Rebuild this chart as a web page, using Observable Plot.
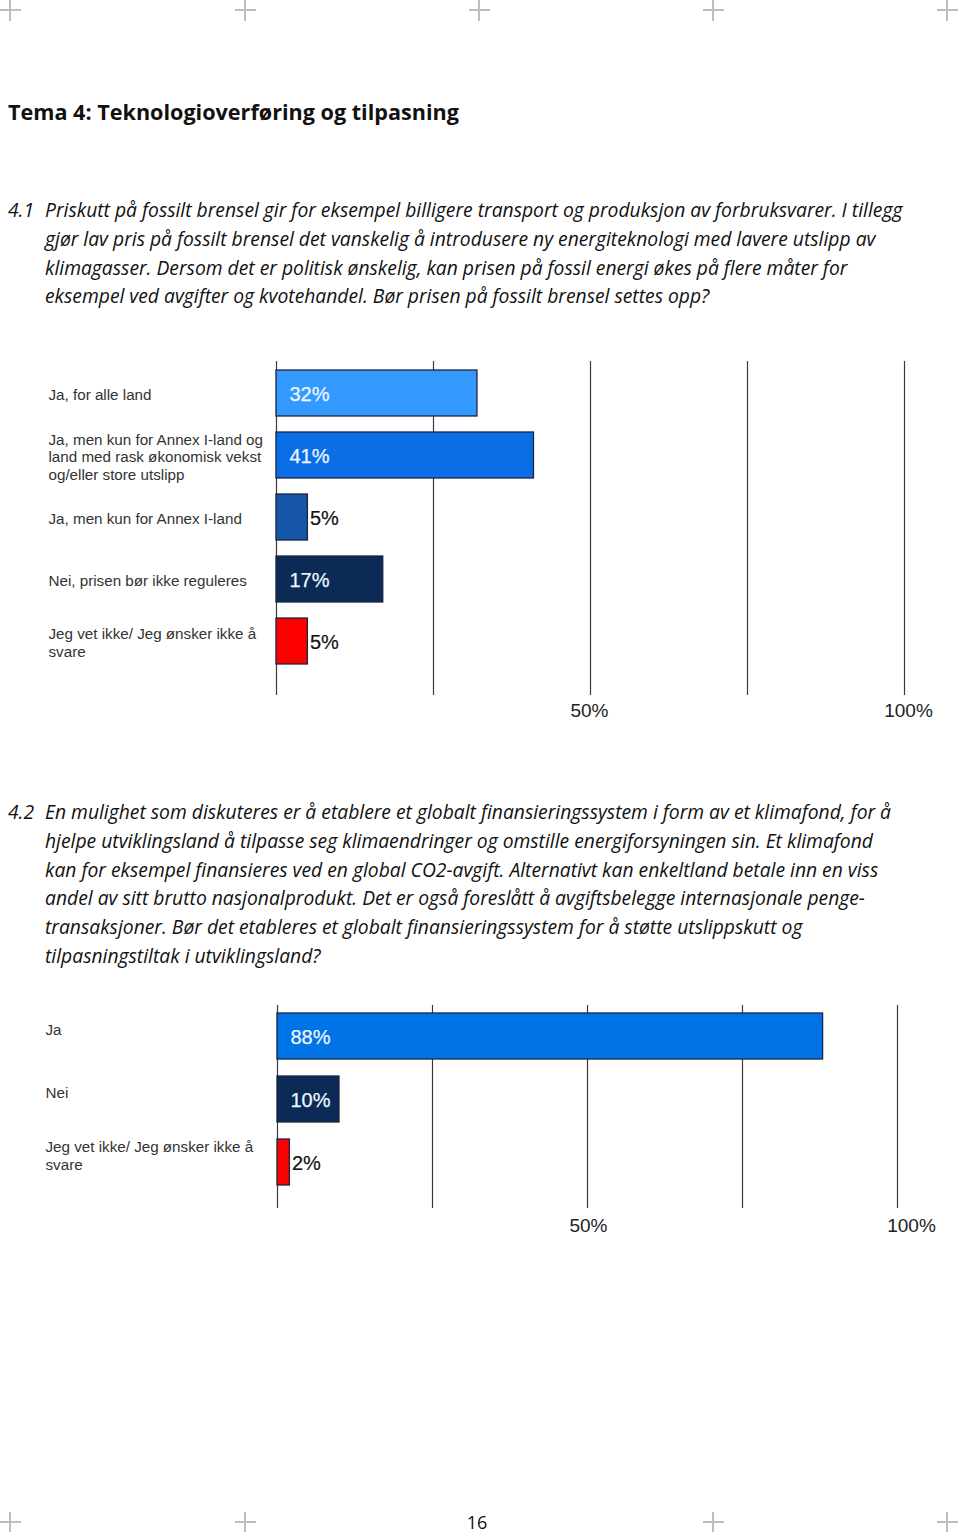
<!DOCTYPE html>
<html><head><meta charset="utf-8">
<script src="https://cdn.jsdelivr.net/npm/d3@7"></script>
<script src="https://cdn.jsdelivr.net/npm/@observablehq/plot@0.6"></script>
<style>
html,body{margin:0;padding:0;background:#fff;}
body{position:relative;width:960px;height:1532px;overflow:hidden;font-family:"Open Sans",Lato,sans-serif;color:#111;}
.abs{position:absolute;}
.title{left:8px;top:97px;font-size:21.6px;font-weight:700;line-height:30px;white-space:nowrap;}
.q{font-style:italic;font-size:19.3px;line-height:28.8px;white-space:nowrap;}
.num{left:8px;}
.txt{left:45px;}
.cross{position:absolute;width:21px;height:21px;}
.cross:before{content:"";position:absolute;left:9.5px;top:0;width:2px;height:21px;background:#bdbdbd;}
.cross:after{content:"";position:absolute;left:0;top:9.5px;width:21px;height:2px;background:#bdbdbd;}
.page{left:460px;width:34px;text-align:center;top:1510px;font-size:18px;line-height:24px;}
.chart{position:absolute;left:0;}
</style>
</head><body>
<div id="crosses"></div>
<div class="abs title">Tema 4: Teknologioverføring og tilpasning</div>
<div class="abs q num" style="top:196px">4.1</div>
<div class="abs q txt" style="top:196px">Priskutt på fossilt brensel gir for eksempel billigere transport og produksjon av forbruksvarer. I tillegg<br>gjør lav pris på fossilt brensel det vanskelig å introdusere ny energiteknologi med lavere utslipp av<br>klimagasser. Dersom det er politisk ønskelig, kan prisen på fossil energi økes på flere måter for<br>eksempel ved avgifter og kvotehandel. Bør prisen på fossilt brensel settes opp?</div>
<div id="c1" class="chart" style="top:340px"></div>
<div class="abs q num" style="top:798px">4.2</div>
<div class="abs q txt" style="top:798px">En mulighet som diskuteres er å etablere et globalt finansieringssystem i form av et klimafond, for å<br>hjelpe utviklingsland å tilpasse seg klimaendringer og omstille energiforsyningen sin. Et klimafond<br>kan for eksempel finansieres ved en global CO2-avgift. Alternativt kan enkeltland betale inn en viss<br>andel av sitt brutto nasjonalprodukt. Det er også foreslått å avgiftsbelegge internasjonale penge-<br>transaksjoner. Bør det etableres et globalt finansieringssystem for å støtte utslippskutt og<br>tilpasningstiltak i utviklingsland?</div>
<div id="c2" class="chart" style="top:985px"></div>
<div class="abs page">16</div>
<script>
// ---- data ----
const categories1 = ["alle", "annexPlus", "annex", "nei", "vetikke"];
const labels1 = [
  "Ja, for alle land",
  "Ja, men kun for Annex I-land og\nland med rask økonomisk vekst\nog/eller store utslipp",
  "Ja, men kun for Annex I-land",
  "Nei, prisen bør ikke reguleres",
  "Jeg vet ikke/ Jeg ønsker ikke å\nsvare"
];
const values1 = [32, 41, 5, 17, 5];

const categories2 = ["ja", "nei", "vetikke"];
const labels2 = ["Ja", "Nei", "Jeg vet ikke/ Jeg ønsker ikke å\nsvare"];
const values2 = [88, 10, 2];

const gridTicks = [0, 25, 50, 75, 100];
const tickLabels = [50, 100];

// ---- styles ----
const colors1 = ["#3399ff", "#0a6fe6", "#1656a8", "#0b2a55", "#ff0000"];
const colors2 = ["#0073e6", "#0b2a55", "#ff0000"];

// crop marks (page decoration)
const cr = document.getElementById("crosses");
[[10,10],[245,10],[479,10],[713,10],[947,10],[10,1522],[245,1522],[713,1522],[947,1522]].forEach(([x,y])=>{
  const d = document.createElement("div"); d.className="cross";
  d.style.left=(x-10.5)+"px"; d.style.top=(y-10.5)+"px"; cr.appendChild(d);
});

function chart({cats, labels, values, colors, height, yRange, padding, marginTop, marginBottom, xRange, labelX, labelDy, tickDy, tickDx}) {
  const data = cats.map((c, i) => ({cat: c, label: labels[i], value: values[i]}));
  return Plot.plot({
    width: 960, height,
    marginTop, marginBottom,
    marginLeft: xRange[0], marginRight: 960 - xRange[1],
    x: {domain: [0, 100], range: xRange, axis: null},
    y: {domain: cats, range: yRange, padding, axis: null},
    color: {domain: cats, range: colors},
    style: {fontFamily: "'Liberation Sans', Arial, sans-serif", background: "transparent", overflow: "visible"},
    marks: [
      Plot.ruleX(gridTicks, {stroke: "#3a3a3a", strokeWidth: 1.2}),
      Plot.barX(data, {x: "value", y: "cat", fill: "cat", stroke: "#1c2540", strokeWidth: 1.3}),
      Plot.text(data.filter(d => d.value >= 10), {x: 0, y: "cat", text: d => d.value + "%", textAnchor: "start", dx: 13, dy: 1, fill: "#eef6ff", fontSize: 20, stroke: "#eef6ff", strokeWidth: 0.25}),
      Plot.text(data.filter(d => d.value < 10), {x: "value", y: "cat", text: d => d.value + "%", textAnchor: "start", dx: 2, dy: 1, fill: "#111", fontSize: 20, stroke: "#111", strokeWidth: 0.2}),
      Plot.text(data, {y: "cat", text: "label", frameAnchor: "left", dx: labelX - xRange[0], dy: labelDy, textAnchor: "start", fontSize: 15.2, fill: "#333", lineHeight: 1.16}),
      ...tickLabels.map((t, i) => Plot.text([t], {x: d => d, text: d => d + "%", frameAnchor: "bottom", dy: tickDy, dx: tickDx[i], fontSize: 19, fill: "#222"}))
    ]
  });
}

document.getElementById("c1").appendChild(chart({
  cats: categories1, labels: labels1, values: values1, colors: colors1,
  height: 390, yRange: [14, 340], padding: 0.258, marginTop: 21, marginBottom: 35,
  xRange: [276, 904], labelX: 48, labelDy: 1, tickDy: 21, tickDx: [-1, 4]
}));

document.getElementById("c2").appendChild(chart({
  cats: categories2, labels: labels2, values: values2, colors: colors2,
  height: 270, yRange: [9.5, 217.5], padding: 0.275, marginTop: 20, marginBottom: 47,
  xRange: [277, 897], labelX: 45, labelDy: -7, tickDy: 23, tickDx: [1, 14]
}));
</script>
</body></html>
